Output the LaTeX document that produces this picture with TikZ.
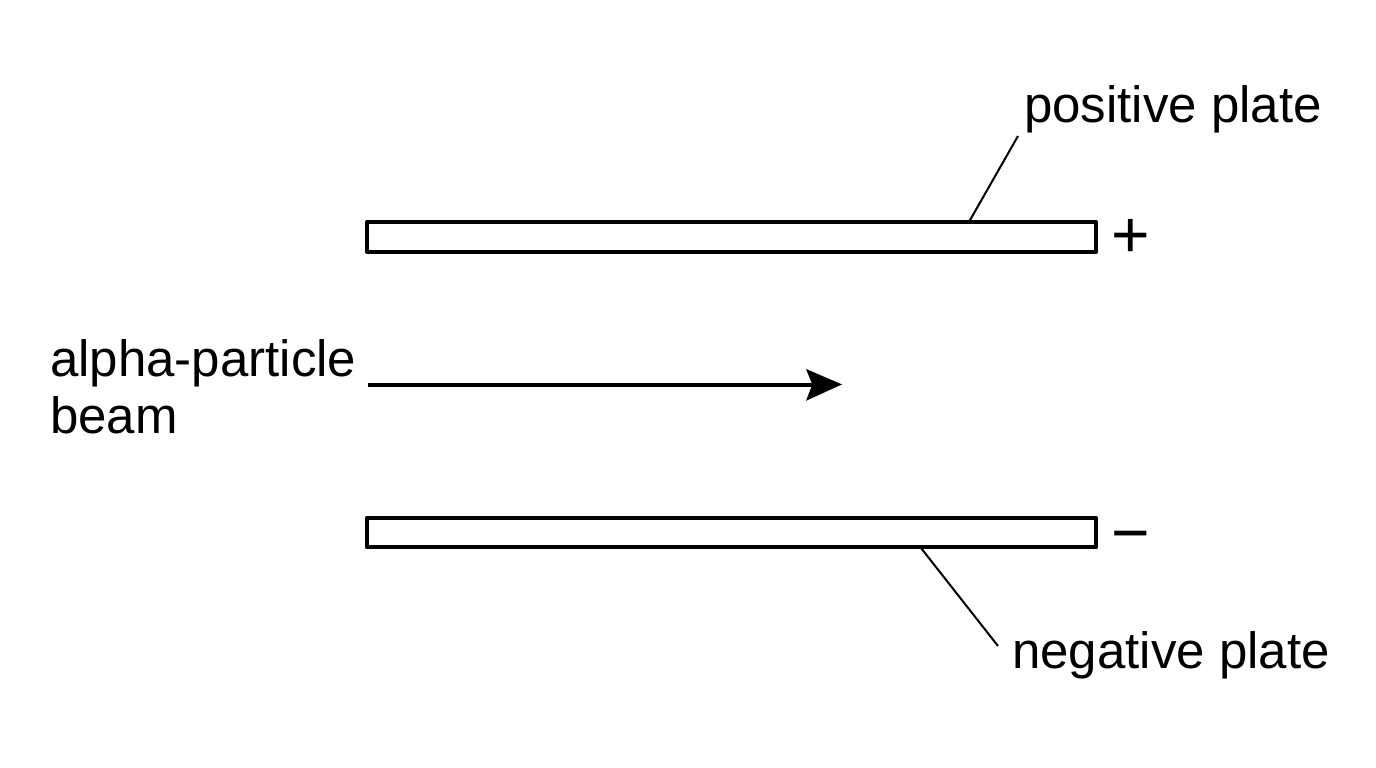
\documentclass[tikz,border=0pt]{standalone}
\usepackage{fontspec}
\setmainfont{Liberation Sans}
\begin{document}
\begin{tikzpicture}[x=1pt,y=-1pt,
  plate/.style={draw=black,line width=4pt,line join=round,fill=white,minimum width=729.3pt,minimum height=29.6pt,inner sep=0pt,outer sep=0pt,anchor=north west},
  lbl/.style={font=\fontsize{51}{56}\selectfont,inner sep=0pt,anchor=base west,text=black},
  sign/.style={font=\fontsize{66}{70}\selectfont,inner sep=0pt,anchor=center,text=black},
  leader/.style={draw=black,line width=2pt}]
\useasboundingbox (0,0) rectangle (1376,768);
\node[plate] (top) at (367,222.1) {};
\node[plate] (bot) at (367,517.8) {};
\node[lbl] (pos) at (1024,122) {positive plate};
\node[lbl] (neg) at (1012,668.5) {negative plate};
\node[lbl] (a1) at (50,376) {alpha-particle};
\node[lbl] (a2) at (50,433) {beam};
\node[sign] (plus) at (1131,238.5) {\char"002B};
\node[sign] (minus) at (1131,543) {\char"2212};
\coordinate (pe) at (1018,136);
\coordinate (pb) at (969.5,221);
\coordinate (ne) at (998,646);
\coordinate (nb) at (921,548);
\draw[leader] (pe) -- (pb);
\draw[leader] (ne) -- (nb);
\coordinate (bs) at (368,384.6);
\coordinate (be) at (814,384.6);
\coordinate (tip) at (842,384.4);
\draw[line width=4pt] (bs) -- (be);
\fill (tip) -- (806,369) -- (812.3,384.5) -- (806,400.8) -- cycle;
\end{tikzpicture}
\end{document}
